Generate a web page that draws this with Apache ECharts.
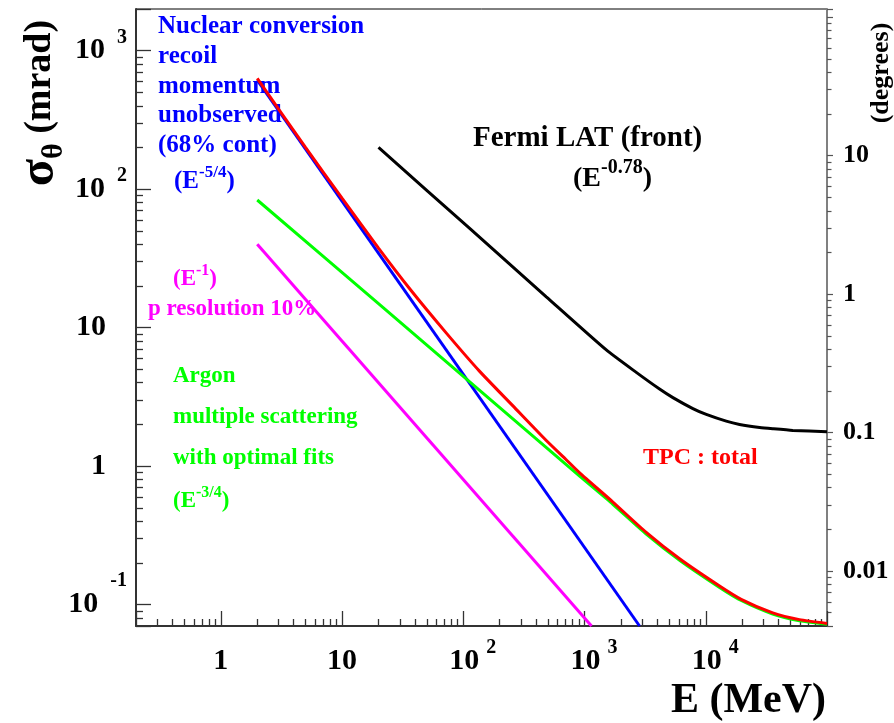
<!DOCTYPE html>
<html>
<head>
<meta charset="utf-8">
<script src="https://cdn.jsdelivr.net/npm/echarts@6/dist/echarts.min.js"></script>
<style>
html,body{margin:0;padding:0;background:#fff;}
#c{width:894px;height:723px;}
</style>
</head>
<body>
<div id="c"></div>
<script>
// ---------------- data ----------------
// Energy E in MeV, angular resolution sigma_theta in mrad
const blueE = [2, 2845];
const blueS = [612, 0.07];
const magentaE = [2, 1143];
const magentaS = [40, 0.07];
const greenE = [2, 20, 200, 912, 1714, 3230, 6085, 13000, 19600, 35700, 59300, 100000];
const greenS = [83.5, 14.9, 2.64, 0.845, 0.53, 0.323, 0.209, 0.133, 0.107, 0.0855, 0.0765, 0.072];
const redE = [2, 5, 10, 20, 37, 72, 136, 257, 484, 700, 912, 1714, 3230, 6085, 13000, 19600, 35700, 59300, 100000];
const redS = [630, 200, 86, 37.5, 18.6, 9.2, 4.85, 2.72, 1.53, 1.12, 0.893, 0.55, 0.332, 0.214, 0.136, 0.109, 0.087, 0.0778, 0.0731];
const fermiE = [20, 113, 484, 1513, 2673, 4160, 5360, 7830, 10100, 14760, 19000, 27800, 35700, 52200, 100000];
const fermiS = [200, 52, 16.7, 6.9, 4.75, 3.6, 3.12, 2.6, 2.36, 2.11, 2.0, 1.9, 1.86, 1.81, 1.77];

// axis ranges and tick labels
const xRange = [0.2, 100000];
const yRange = [0.07, 2000];
const mradPerDeg = 17.4533;
const xTickValues = [1, 10, 100, 1000, 10000];
const xTickBase = ['1', '10', '10', '10', '10'];
const xTickExp = ['', '', '2', '3', '4'];
const yTickValues = [0.1, 1, 10, 100, 1000];
const yTickBase = ['10', '1', '10', '10', '10'];
const yTickExp = ['-1', '', '', '2', '3'];
const degTickValues = [0.01, 0.1, 1, 10];
const degTickLabels = ['0.01', '0.1', '1', '10'];

// ---------------- chart ----------------
const SERIF = '"Liberation Serif", "Times New Roman", serif';
function findIdx(vals, v) {
  for (let i = 0; i < vals.length; i++) {
    if (Math.abs(Math.log10(v) - Math.log10(vals[i])) < 1e-6) return i;
  }
  return -1;
}
function pairs(E, S) { return E.map((e, i) => [e, S[i]]); }

const chart = echarts.init(document.getElementById('c'), null, {renderer: 'canvas'});

const tickDark = '#333';
const option = {
  animation: false,
  backgroundColor: '#fff',
  grid: {
    left: 136, top: 9, width: 691, height: 617,
    show: true, borderColor: '#000', borderWidth: 1, backgroundColor: 'transparent',
    containLabel: false, outerBoundsMode: 'none'
  },
  xAxis: {
    type: 'log', logBase: 10, min: xRange[0], max: xRange[1],
    splitLine: {show: false},
    axisLine: {show: true, lineStyle: {color: tickDark, width: 2}},
    axisTick: {show: true, inside: true, length: 15, lineStyle: {color: tickDark, width: 1.3}},
    minorTick: {show: true, splitNumber: 9, length: 7, lineStyle: {color: tickDark, width: 1.3}},
    minorSplitLine: {show: false},
    axisLabel: {
      show: true, margin: 12, color: '#000',
      formatter: function (v) {
        const i = findIdx(xTickValues, v);
        if (i < 0) return '';
        return xTickExp[i] ? '{sp| }{b|' + xTickBase[i] + '}{e|' + xTickExp[i] + '}' : '{b|' + xTickBase[i] + '}';
      },
      rich: {
        b: {fontFamily: SERIF, fontWeight: 'bold', fontSize: 30, lineHeight: 46, color: '#000'},
        e: {fontFamily: SERIF, fontWeight: 'bold', fontSize: 20, lineHeight: 46, color: '#000', padding: [0, 0, 26, 7]},
        sp: {fontSize: 10, width: 19, lineHeight: 46}
      }
    }
  },
  yAxis: [
    {
      type: 'log', logBase: 10, min: yRange[0], max: yRange[1], position: 'left',
      splitLine: {show: false},
      axisLine: {show: true, lineStyle: {color: tickDark, width: 2}},
      axisTick: {show: true, inside: true, length: 15, lineStyle: {color: tickDark, width: 1.3}},
      minorTick: {show: true, splitNumber: 9, length: 7, lineStyle: {color: tickDark, width: 1.3}},
      minorSplitLine: {show: false},
      axisLabel: {
        show: true, margin: 9, color: '#000',
        formatter: function (v) {
          const i = findIdx(yTickValues, v);
          if (i < 0) return '';
          if (!yTickExp[i]) return '{p|' + yTickBase[i] + '}';
          const st = yTickExp[i].charAt(0) === '-' ? 'en' : 'e';
          return '{b|' + yTickBase[i] + '}{' + st + '|' + yTickExp[i] + '}';
        },
        rich: {
          b: {fontFamily: SERIF, fontWeight: 'bold', fontSize: 30, lineHeight: 46, color: '#000'},
          p: {fontFamily: SERIF, fontWeight: 'bold', fontSize: 30, lineHeight: 46, color: '#000', padding: [0, 21, 0, 0]},
          e: {fontFamily: SERIF, fontWeight: 'bold', fontSize: 20, lineHeight: 46, color: '#000', padding: [0, 0, 26, 12]},
          en: {fontFamily: SERIF, fontWeight: 'bold', fontSize: 20, lineHeight: 46, color: '#000', padding: [0, 0, 48, 12]}
        }
      }
    },
    {
      type: 'log', logBase: 10, min: yRange[0] / mradPerDeg, max: yRange[1] / mradPerDeg, position: 'right',
      splitLine: {show: false},
      axisLine: {show: true, lineStyle: {color: '#808080', width: 2}},
      axisTick: {show: true, inside: false, length: 6, lineStyle: {color: '#555', width: 1.2}},
      minorTick: {show: true, splitNumber: 9, length: 4.5, lineStyle: {color: '#555', width: 1.2}},
      minorSplitLine: {show: false},
      axisLabel: {
        show: true, margin: 16, color: '#000',
        fontFamily: SERIF, fontWeight: 'bold', fontSize: 26,
        formatter: function (v) {
          const i = findIdx(degTickValues, v);
          return i < 0 ? '' : degTickLabels[i];
        }
      }
    }
  ],
  series: [
    {type: 'line', name: 'Fermi LAT (front)', data: pairs(fermiE, fermiS), showSymbol: false, smooth: 0.2,
     lineStyle: {color: '#000', width: 3}, silent: true, z: 2, clip: true},
    {type: 'line', name: 'p resolution', data: pairs(magentaE, magentaS), showSymbol: false,
     lineStyle: {color: '#ff00ff', width: 3}, silent: true, z: 3, clip: true},
    {type: 'line', name: 'nuclear recoil', data: pairs(blueE, blueS), showSymbol: false,
     lineStyle: {color: '#0000ff', width: 3}, silent: true, z: 4, clip: true},
    {type: 'line', name: 'multiple scattering', data: pairs(greenE, greenS), showSymbol: false, smooth: 0.2,
     lineStyle: {color: '#00ff00', width: 3}, silent: true, z: 5, clip: true},
    {type: 'line', name: 'TPC total', data: pairs(redE, redS), showSymbol: false, smooth: 0.2,
     lineStyle: {color: '#ff0000', width: 3}, silent: true, z: 6, clip: true}
  ],
  graphic: [
    // axis titles
    {type: 'text', x: 40, y: 103, rotation: Math.PI / 2, silent: true,
     style: {text: '{s|σ}{t|θ}{m| (mrad)}', align: 'center', verticalAlign: 'middle',
       rich: {
         s: {fontFamily: SERIF, fontWeight: 'bold', fontSize: 50, fill: '#000', color: '#000'},
         t: {fontFamily: SERIF, fontWeight: 'bold', fontSize: 30, fill: '#000', color: '#000', padding: [28, 0, 0, 0]},
         m: {fontFamily: SERIF, fontWeight: 'bold', fontSize: 38, fill: '#000', color: '#000'}
       }}},
    {type: 'text', x: 881, y: 73, rotation: Math.PI / 2, silent: true,
     style: {text: '(degrees)', align: 'center', verticalAlign: 'middle', fill: '#000',
       font: 'bold 26px ' + SERIF}},
    {type: 'text', x: 826, y: 701, silent: true,
     style: {text: 'E (MeV)', align: 'right', verticalAlign: 'middle', fill: '#000',
       font: 'bold 42px ' + SERIF}},
    // blue annotation
    {type: 'text', x: 158, y: 27, silent: true, style: {text: 'Nuclear conversion', fill: '#0000ff', font: 'bold 25px ' + SERIF, verticalAlign: 'middle'}},
    {type: 'text', x: 158, y: 57, silent: true, style: {text: 'recoil', fill: '#0000ff', font: 'bold 25px ' + SERIF, verticalAlign: 'middle'}},
    {type: 'text', x: 158, y: 87, silent: true, style: {text: 'momentum', fill: '#0000ff', font: 'bold 25px ' + SERIF, verticalAlign: 'middle'}},
    {type: 'text', x: 158, y: 116, silent: true, style: {text: 'unobserved', fill: '#0000ff', font: 'bold 25px ' + SERIF, verticalAlign: 'middle'}},
    {type: 'text', x: 158, y: 146, silent: true, style: {text: '(68% cont)', fill: '#0000ff', font: 'bold 25px ' + SERIF, verticalAlign: 'middle'}},
    {type: 'text', x: 174, y: 182, silent: true,
     style: {text: '{b|(E}{e|-5/4}{b|)}', verticalAlign: 'middle',
       rich: {b: {fontFamily: SERIF, fontWeight: 'bold', fontSize: 25, color: '#0000ff', fill: '#0000ff'},
              e: {fontFamily: SERIF, fontWeight: 'bold', fontSize: 17, color: '#0000ff', fill: '#0000ff', padding: [0, 0, 18, 0]}}}},
    // black annotation
    {type: 'text', x: 473, y: 139, silent: true, style: {text: 'Fermi LAT (front)', fill: '#000', font: 'bold 29px ' + SERIF, verticalAlign: 'middle'}},
    {type: 'text', x: 573, y: 179, silent: true,
     style: {text: '{b|(E}{e|-0.78}{b|)}', verticalAlign: 'middle',
       rich: {b: {fontFamily: SERIF, fontWeight: 'bold', fontSize: 28, color: '#000', fill: '#000'},
              e: {fontFamily: SERIF, fontWeight: 'bold', fontSize: 20, color: '#000', fill: '#000', padding: [0, 0, 23, 0]}}}},
    // magenta annotation
    {type: 'text', x: 173, y: 279, silent: true,
     style: {text: '{b|(E}{e|-1}{b|)}', verticalAlign: 'middle',
       rich: {b: {fontFamily: SERIF, fontWeight: 'bold', fontSize: 23, color: '#ff00ff', fill: '#ff00ff'},
              e: {fontFamily: SERIF, fontWeight: 'bold', fontSize: 16, color: '#ff00ff', fill: '#ff00ff', padding: [0, 0, 16, 0]}}}},
    {type: 'text', x: 148, y: 309, silent: true, style: {text: 'p resolution 10%', fill: '#ff00ff', font: 'bold 23px ' + SERIF, verticalAlign: 'middle'}},
    // green annotation
    {type: 'text', x: 173, y: 376, silent: true, style: {text: 'Argon', fill: '#00ff00', font: 'bold 23px ' + SERIF, verticalAlign: 'middle'}},
    {type: 'text', x: 173, y: 417, silent: true, style: {text: 'multiple scattering', fill: '#00ff00', font: 'bold 23px ' + SERIF, verticalAlign: 'middle'}},
    {type: 'text', x: 173, y: 458, silent: true, style: {text: 'with optimal fits', fill: '#00ff00', font: 'bold 23px ' + SERIF, verticalAlign: 'middle'}},
    {type: 'text', x: 173, y: 501, silent: true,
     style: {text: '{b|(E}{e|-3/4}{b|)}', verticalAlign: 'middle',
       rich: {b: {fontFamily: SERIF, fontWeight: 'bold', fontSize: 23, color: '#00ff00', fill: '#00ff00'},
              e: {fontFamily: SERIF, fontWeight: 'bold', fontSize: 16, color: '#00ff00', fill: '#00ff00', padding: [0, 0, 16, 0]}}}},
    // red annotation
    {type: 'text', x: 643, y: 458, silent: true, style: {text: 'TPC : total', fill: '#ff0000', font: 'bold 24px ' + SERIF, verticalAlign: 'middle'}}
  ]
};
chart.setOption(option);
</script>
</body>
</html>
